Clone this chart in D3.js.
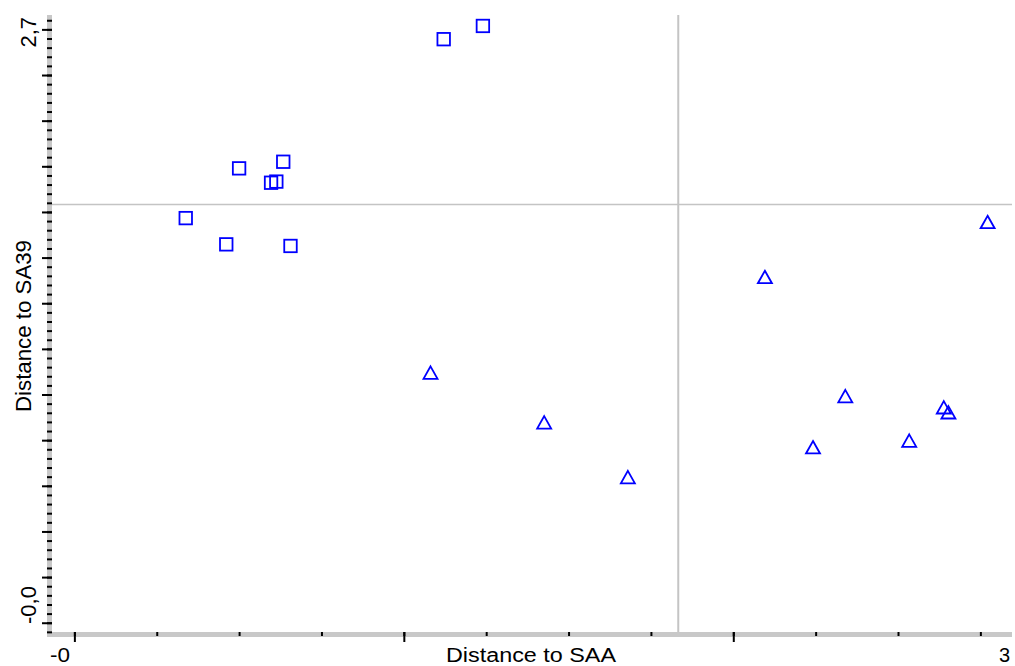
<!DOCTYPE html>
<html>
<head>
<meta charset="utf-8">
<script src="https://cdn.jsdelivr.net/npm/d3@7"></script>
<style>
  html, body { margin: 0; padding: 0; background: #fff; }
  svg { display: block; }
  text { font-family: "Liberation Sans", Arial, sans-serif; fill: #000; }
</style>
</head>
<body>
<script>
// Group A (squares): distance to SAA, distance to SA39
const groupA_x = [1.121, 1.240, 0.500, 0.634, 0.597, 0.613, 0.338, 0.461, 0.656];
const groupA_y = [2.557, 2.615, 1.991, 2.020, 1.928, 1.933, 1.773, 1.658, 1.651];

// Group B (triangles)
const groupB_x = [1.081, 1.426, 1.680, 2.096, 2.772, 2.340, 2.639, 2.653, 2.534, 2.242];
const groupB_y = [1.096, 0.878, 0.638, 1.515, 1.756, 0.993, 0.944, 0.922, 0.798, 0.769];

// Axis extents and threshold lines
const xDomain = [-0.074, 2.846];
const yDomain = [-0.045, 2.663];
const xThreshold = 1.833;
const yThreshold = 1.833;

// End labels of the axes
const xEndLabels = ["-0", "3"];
const yEndLabels = ["-0,0", "2,7"];
const xTitle = "Distance to SAA";
const yTitle = "Distance to SA39";

const W = 1015, H = 666;
const plotL = 50, plotR = 1012, plotT = 15, plotB = 633;
const bottomFont = 20, sideFont = 22, bottomBase = 661.5;

const svg = d3.select("body").append("svg").attr("width", W).attr("height", H);

const x = d3.scaleLinear().domain(xDomain).range([plotL, plotR]);
const y = d3.scaleLinear().domain(yDomain).range([plotB, plotT]);

// Threshold lines
svg.append("line")
  .attr("x1", x(xThreshold)).attr("x2", x(xThreshold))
  .attr("y1", plotT).attr("y2", plotB)
  .attr("stroke", "#c4c4c4").attr("stroke-width", 2);
svg.append("line")
  .attr("x1", plotL).attr("x2", plotR)
  .attr("y1", y(yThreshold)).attr("y2", y(yThreshold))
  .attr("stroke", "#c4c4c4").attr("stroke-width", 1.5);

// Axis bands
svg.append("rect")
  .attr("x", plotL - 3).attr("y", plotT).attr("width", 5).attr("height", plotB + 4 - plotT)
  .attr("fill", "#c8c8c8");
svg.append("rect")
  .attr("x", plotL - 3).attr("y", plotB - 1).attr("width", plotR - plotL + 3).attr("height", 5)
  .attr("fill", "#c8c8c8");

// Y ticks: minor every 0.04, major every 0.2
const yMinor = d3.range(-0.04, 2.6401, 0.04).map(v => +v.toFixed(2));
const yMajor = d3.range(0, 2.6001, 0.2).map(v => +v.toFixed(2));
function styleTicks(g) {
  g.select(".domain").remove();
  g.selectAll(".tick line").attr("stroke", "#000").attr("stroke-width", 2);
  g.selectAll(".tick text").remove();
}
svg.append("g").attr("transform", `translate(${plotL + 2},0)`)
  .call(d3.axisLeft(y).tickValues(yMinor).tickSize(5).tickFormat(""))
  .call(styleTicks);
svg.append("g").attr("transform", `translate(${plotL + 2},0)`)
  .call(d3.axisLeft(y).tickValues(yMajor).tickSize(10).tickFormat(""))
  .call(styleTicks);

// X ticks: minor every 0.25, major every 1
const xMinor = d3.range(0, 2.7501, 0.25);
const xMajor = [0, 1, 2];
svg.append("g").attr("transform", `translate(0,${plotB - 1})`)
  .call(d3.axisBottom(x).tickValues(xMinor).tickSize(4).tickFormat(""))
  .call(styleTicks);
svg.append("g").attr("transform", `translate(0,${plotB - 1})`)
  .call(d3.axisBottom(x).tickValues(xMajor).tickSize(10).tickFormat(""))
  .call(styleTicks);

// Axis end labels
svg.append("text").attr("x", plotL).attr("y", bottomBase)
  .attr("font-size", bottomFont).attr("text-anchor", "start")
  .attr("textLength", 20).attr("lengthAdjust", "spacingAndGlyphs")
  .text(xEndLabels[0]);
svg.append("text").attr("x", plotR - 2).attr("y", bottomBase)
  .attr("font-size", bottomFont).attr("text-anchor", "end").text(xEndLabels[1]);
svg.append("text").attr("transform", `translate(36,624) rotate(-90)`)
  .attr("font-size", sideFont).attr("text-anchor", "start").text(yEndLabels[0]);
svg.append("text").attr("transform", `translate(36,17) rotate(-90)`)
  .attr("font-size", sideFont).attr("text-anchor", "end").text(yEndLabels[1]);

// Axis titles
svg.append("text").attr("x", (plotL + plotR) / 2).attr("y", bottomBase)
  .attr("font-size", bottomFont).attr("text-anchor", "middle")
  .attr("textLength", 170).attr("lengthAdjust", "spacingAndGlyphs")
  .text(xTitle);
svg.append("text").attr("transform", `translate(31,${(plotT + plotB) / 2 + 2}) rotate(-90)`)
  .attr("font-size", sideFont).attr("text-anchor", "middle")
  .attr("textLength", 172).attr("lengthAdjust", "spacingAndGlyphs")
  .text(yTitle);

// Markers
const blue = "#0000ff";
const sq = 12.5;
svg.append("g").selectAll("rect")
  .data(d3.zip(groupA_x, groupA_y))
  .join("rect")
  .attr("x", d => x(d[0]) - sq / 2)
  .attr("y", d => y(d[1]) - sq / 2)
  .attr("width", sq).attr("height", sq)
  .attr("fill", "none").attr("stroke", blue).attr("stroke-width", 1.8);

const tri = "M0,-6.2L7,6.2L-7,6.2Z";
svg.append("g").selectAll("path")
  .data(d3.zip(groupB_x, groupB_y))
  .join("path")
  .attr("transform", d => `translate(${x(d[0])},${y(d[1])})`)
  .attr("d", tri)
  .attr("fill", "none").attr("stroke", blue).attr("stroke-width", 1.8)
  .attr("stroke-linejoin", "miter");
</script>
</body>
</html>
